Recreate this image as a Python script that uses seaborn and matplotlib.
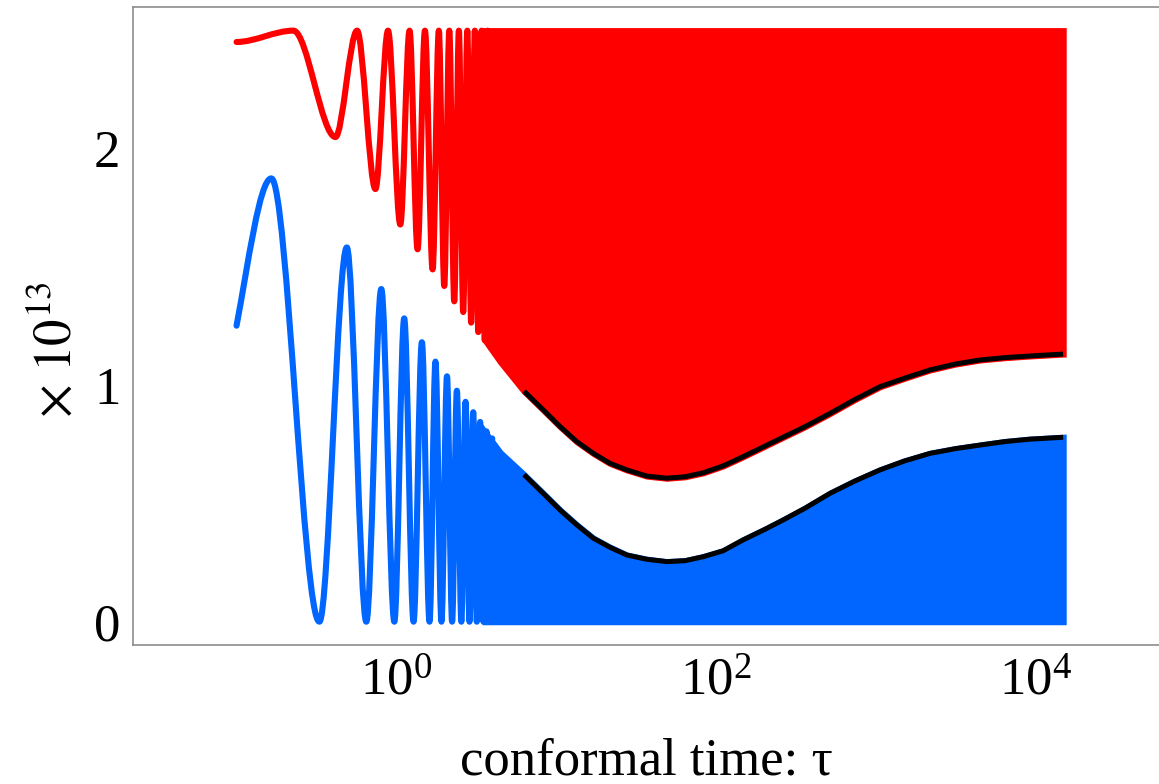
import numpy as np
import matplotlib
matplotlib.use("Agg")
import matplotlib.pyplot as plt
from matplotlib.path import Path
from matplotlib.patches import PathPatch
from matplotlib.ticker import FixedLocator, NullLocator, LogFormatterMathtext
import seaborn as sns

# ---------------- data ----------------
# resolved oscillations: extrema (tau, value), first entry = start of curve
red_tau = [0.1, 0.227, 0.416, 0.568, 0.74, 0.887, 1.059, 1.21, 1.358, 1.51,
           1.687, 1.845, 1.995, 2.145, 2.304, 2.463, 2.622, 2.781, 2.94,
           3.099, 3.258, 3.417, 3.576, 3.735, 3.894]
red_val = [2.452, 2.50, 2.05, 2.50, 1.83, 2.50, 1.68, 2.50, 1.575, 2.50,
           1.49, 2.50, 1.42, 2.50, 1.355, 2.50, 1.31, 2.50, 1.265,
           2.50, 1.225, 2.50, 1.19, 2.50, 1.16]

blue_tau = [0.1, 0.165, 0.330, 0.49, 0.649, 0.805, 0.972, 1.12, 1.282, 1.445,
            1.614, 1.757, 1.916, 2.075, 2.234, 2.393, 2.552, 2.711, 2.87,
            3.029, 3.188, 3.347, 3.506, 3.665, 3.824, 3.983]
blue_val = [1.252, 1.875, 0.0, 1.583, 0.0, 1.407, 0.0, 1.283, 0.0, 1.182,
            0.0, 1.10, 0.0, 1.038, 0.0, 0.977, 0.0, 0.93, 0.0,
            0.886, 0.0, 0.845, 0.0, 0.805, 0.0, 0.775]

# unresolved (dense) oscillations: envelopes
env_tau = [3.6, 4.47, 6.3, 8.3, 10.6, 13.5, 17.1, 21.7, 27.7, 36.9, 49.2,
           64.1, 83.4, 111, 148, 203, 263, 361, 518, 741, 1064, 1517, 2188,
           3162, 4487, 6457, 9226, 14900]
red_env = [1.19, 1.10, 0.975, 0.896, 0.825, 0.761, 0.712, 0.670, 0.642,
           0.616, 0.607, 0.613, 0.630, 0.659, 0.698, 0.743, 0.78, 0.825,
           0.881, 0.94, 0.994, 1.03, 1.065, 1.09, 1.107, 1.117, 1.124, 1.132]
blue_env = [0.80, 0.715, 0.622, 0.543, 0.472, 0.409, 0.353, 0.315, 0.282,
            0.264, 0.254, 0.258, 0.275, 0.300, 0.346, 0.391, 0.43, 0.48,
            0.543, 0.595, 0.642, 0.68, 0.712, 0.732, 0.747, 0.762, 0.772, 0.780]
red_top = 2.5
blue_bottom = 0.0
black_start = 2          # index in env arrays where the black envelope line begins

x_ticks = [1, 100, 10000]
y_ticks = [0, 1, 2]
x_label = "conformal time: τ"
y_label = r"$\times\ 10^{13}$"

RED = "#ff0000"
BLUE = "#0066ff"

# ---------------- styling ----------------
sns.set_style("white")
plt.rcParams["font.family"] = ["Liberation Serif", "DejaVu Serif"]
plt.rcParams["mathtext.fontset"] = "stix"
plt.rcParams["text.color"] = "black"
plt.rcParams["axes.labelcolor"] = "black"

fig = plt.figure(figsize=(11.59, 7.84), dpi=100)
ax = fig.add_axes([133 / 1159, 139 / 784, 1026 / 1159, 638 / 784])
ax.set_xscale("log")
ax.set_xlim(10 ** -1.648, 10 ** 4.773)
ax.set_ylim(-0.0986, 2.60)


def smooth_path(taus, vals, first_tangent_factor=None):
    """Smooth curve through the extrema (horizontal tangents at extrema)."""
    lx = np.log10(np.asarray(taus, dtype=float))
    verts = [(taus[0], vals[0])]
    codes = [Path.MOVETO]
    for i in range(len(taus) - 1):
        x0, x1 = lx[i], lx[i + 1]
        y0, y1 = vals[i], vals[i + 1]
        dx = (x1 - x0) / 3.0
        if i == 0 and first_tangent_factor is not None:
            c1 = (10 ** (x0 + dx), y0 + first_tangent_factor * (y1 - y0) / 3.0)
        else:
            c1 = (10 ** (x0 + dx), y0)
        c2 = (10 ** (x1 - dx), y1)
        verts += [c1, c2, (taus[i + 1], y1)]
        codes += [Path.CURVE4] * 3
    return Path(verts, codes)


LW = 4.4
# dense regions
ax.fill_between(env_tau, red_env, red_top, color=RED, lw=LW, edgecolor=RED,
                joinstyle="miter", zorder=2)
ax.fill_between(env_tau, blue_bottom, blue_env, color=BLUE, lw=LW, edgecolor=BLUE,
                joinstyle="miter", zorder=2)

# resolved oscillations
ax.add_patch(PathPatch(smooth_path(red_tau, red_val), fill=False, edgecolor=RED,
                       lw=LW, capstyle="round", joinstyle="round", zorder=3))
ax.add_patch(PathPatch(smooth_path(blue_tau, blue_val, first_tangent_factor=1.25),
                       fill=False, edgecolor=BLUE, lw=LW, capstyle="round",
                       joinstyle="round", zorder=3))

# black envelopes
sns.lineplot(x=env_tau[black_start:], y=red_env[black_start:], color="black",
             lw=3.6, ax=ax, zorder=5, solid_capstyle="butt")
sns.lineplot(x=env_tau[black_start:], y=blue_env[black_start:], color="black",
             lw=3.6, ax=ax, zorder=5, solid_capstyle="butt")

# axes decoration
ax.xaxis.set_major_locator(FixedLocator(x_ticks))
ax.xaxis.set_minor_locator(NullLocator())
ax.xaxis.set_major_formatter(LogFormatterMathtext())
ax.set_yticks(y_ticks)
ax.set_yticklabels([str(v) for v in y_ticks])
ax.tick_params(axis="both", which="major", direction="in", length=8, width=1,
               color="#c0c0c0", labelsize=38, pad=9, labelcolor="black")
ax.tick_params(axis="x", top=False)
ax.tick_params(axis="y", right=False)

for side in ["left", "bottom", "top"]:
    ax.spines[side].set_visible(True)
    ax.spines[side].set_color("#8c8c8c")
    ax.spines[side].set_linewidth(1.2)
ax.spines["right"].set_visible(False)

ax.set_xlabel(x_label, fontsize=38)
ax.set_ylabel(y_label, fontsize=38)
ax.xaxis.set_label_coords(0.5, -0.145)
ax.yaxis.set_label_coords(-0.05, 0.462)
ax.grid(False)

fig.savefig("out.png", dpi=100)
